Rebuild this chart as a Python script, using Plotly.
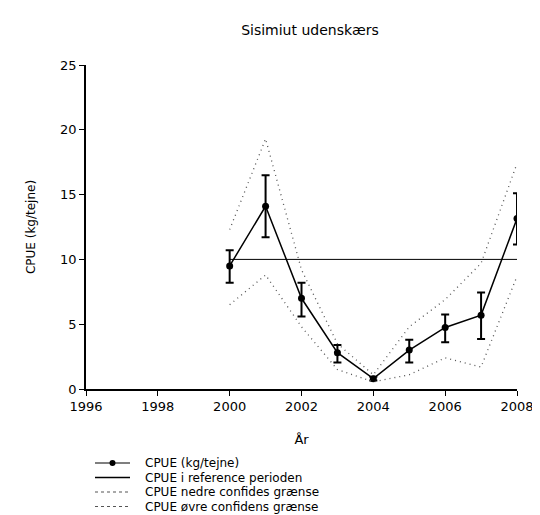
import plotly.graph_objects as go

years = [2000, 2001, 2002, 2003, 2004, 2005, 2006, 2007, 2008]
cpue = [9.5, 14.1, 7.0, 2.8, 0.8, 3.0, 4.75, 5.7, 13.15]
err_plus = [1.2, 2.4, 1.2, 0.6, 0.15, 0.8, 1.0, 1.75, 1.95]
err_minus = [1.3, 2.4, 1.4, 0.75, 0.15, 0.95, 1.15, 1.85, 2.0]
ref_years = [2000, 2008]
ref_value = [10.0, 10.0]
lower_ci = [6.5, 8.8, 4.8, 1.5, 0.55, 1.1, 2.4, 1.7, 8.7]
upper_ci = [12.3, 19.3, 9.2, 3.5, 1.1, 4.8, 6.9, 9.7, 17.4]
legend_labels = ["CPUE (kg/tejne)", "CPUE i reference perioden",
                 "CPUE nedre confides grænse", "CPUE øvre confidens grænse"]

FONT = "DejaVu Sans, Verdana, sans-serif"
W, H = 532, 507  # page body has an 8px margin in the 540x515 window
ML, MR, MT, MB = 78, 23, 57, 126
PW, PH = W - ML - MR, H - MT - MB
DOT = "1px,4px"
DOT_COLOR = "#555555"

fig = go.Figure()
fig.add_trace(go.Scatter(
    x=years, y=cpue, mode="lines+markers", name=legend_labels[0],
    line=dict(color="black", width=1.5),
    marker=dict(color="black", size=7),
    error_y=dict(type="data", symmetric=False, array=err_plus, arrayminus=err_minus,
                 color="black", thickness=2, width=4)))
fig.add_trace(go.Scatter(
    x=ref_years, y=ref_value, mode="lines", name=legend_labels[1],
    line=dict(color="black", width=1)))
fig.add_trace(go.Scatter(
    x=years, y=lower_ci, mode="lines", name=legend_labels[2],
    line=dict(color=DOT_COLOR, width=1.3, dash=DOT)))
fig.add_trace(go.Scatter(
    x=years, y=upper_ci, mode="lines", name=legend_labels[3],
    line=dict(color=DOT_COLOR, width=1.3, dash=DOT)))


# manual compact legend (figure pixel -> paper coords)
def px(fx):
    return (fx - ML) / PW


def py(fy):
    return (H - MB - fy) / PH


rows = [455, 469.5, 484, 498.5]
styles = [dict(color="black", width=1.2), dict(color="black", width=1.5),
          dict(color=DOT_COLOR, width=1.2, dash="dot"),
          dict(color=DOT_COLOR, width=1.2, dash="dot")]
shapes = []
annotations = []
for i, (label, fy) in enumerate(zip(legend_labels, rows)):
    shapes.append(dict(type="line", xref="paper", yref="paper",
                       x0=px(87), x1=px(122), y0=py(fy), y1=py(fy), line=styles[i]))
    annotations.append(dict(text=label, xref="paper", yref="paper", x=px(135), y=py(fy),
                            xanchor="left", yanchor="middle", showarrow=False,
                            font=dict(size=12, family=FONT, color="black")))
shapes.append(dict(type="circle", xref="paper", yref="paper", fillcolor="black",
                   line=dict(color="black", width=0),
                   x0=px(101.5), x1=px(107.5), y0=py(rows[0] - 3), y1=py(rows[0] + 3)))

fig.update_layout(
    width=W, height=H,
    margin=dict(l=ML, r=MR, t=MT, b=MB, autoexpand=False),
    paper_bgcolor="white", plot_bgcolor="white",
    font=dict(family=FONT, color="black", size=12),
    title=dict(text="Sisimiut udenskærs", x=302 / W, xanchor="center",
               y=1 - 22 / H, yanchor="middle", font=dict(size=14, family=FONT)),
    showlegend=False,
    shapes=shapes,
    annotations=annotations,
)
fig.update_xaxes(range=[1996, 2008], tickvals=[1996, 1998, 2000, 2002, 2004, 2006, 2008],
                 showgrid=False, zeroline=False, showline=True, linecolor="black",
                 linewidth=1.5, ticks="outside", ticklen=5, tickcolor="black",
                 automargin=False,
                 title=dict(text="År", font=dict(size=13), standoff=22),
                 tickfont=dict(size=13))
fig.update_yaxes(range=[0, 25], tickvals=[0, 5, 10, 15, 20, 25],
                 showgrid=False, zeroline=False, showline=True, linecolor="black",
                 linewidth=1.5, ticks="outside", ticklen=5, tickcolor="black",
                 automargin=False,
                 title=dict(text="CPUE (kg/tejne)", font=dict(size=12), standoff=22),
                 tickfont=dict(size=13))

fig.write_html("out.html")
